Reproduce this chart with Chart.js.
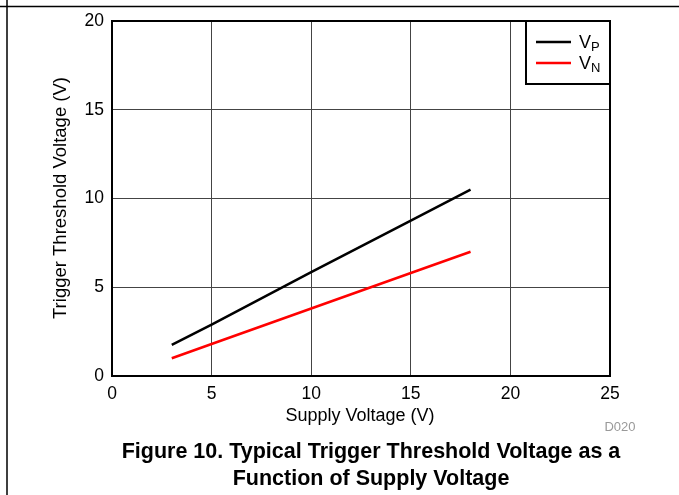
<!DOCTYPE html>
<html>
<head>
<meta charset="utf-8">
<script src="https://cdn.jsdelivr.net/npm/chart.js@4/dist/chart.umd.min.js"></script>
<style>
  html,body{margin:0;padding:0;background:#fff;}
  canvas{display:block;}
</style>
</head>
<body>
<canvas id="myChart" width="679" height="495"></canvas>
<script>
// data
const supplyVoltage=[3,5,10,15,18];
const vpValues=[1.75,2.9,5.85,8.75,10.5];
const vnValues=[1.0,1.8,3.8,5.8,7.0];
const seriesSubs=['P','N'];
const seriesColors=['#000000','#ff0000'];
const xTicks=[0,5,10,15,20,25];
const yTicks=[0,5,10,15,20];

const FONT='"Liberation Sans", Arial, sans-serif';

function toPoints(xs,ys){
  return xs.map((x,i)=>({x:x,y:ys[i]}));
}

const extras={
  id:'extras',
  afterDraw(chart){
    const ctx=chart.ctx;
    const a=chart.chartArea;
    ctx.save();
    // page rules
    ctx.strokeStyle='#000';
    ctx.lineWidth=1.5;
    ctx.beginPath();
    ctx.moveTo(0,6.5);ctx.lineTo(679,6.5);
    ctx.moveTo(7,0);ctx.lineTo(7,495);
    ctx.stroke();
    // plot frame
    ctx.lineWidth=2;
    ctx.strokeRect(a.left,a.top,a.right-a.left,a.bottom-a.top);
    // legend box
    const lx=526,ly=a.top,lw=a.right-lx,lh=84-a.top;
    ctx.fillStyle='#fff';
    ctx.fillRect(lx,ly,lw,lh);
    ctx.strokeRect(lx,ly,lw,lh);
    seriesSubs.forEach((s,i)=>{
      const y=42+i*21;
      ctx.strokeStyle=seriesColors[i];
      ctx.lineWidth=2.5;
      ctx.beginPath();ctx.moveTo(536,y);ctx.lineTo(571,y);ctx.stroke();
      ctx.fillStyle='#000';
      ctx.textBaseline='alphabetic';
      ctx.textAlign='left';
      ctx.font='18px '+FONT;
      ctx.fillText('V',579,y+6);
      ctx.font='13px '+FONT;
      ctx.fillText(s,591,y+9);
    });
    // axis titles
    ctx.fillStyle='#000';
    ctx.font='18px '+FONT;
    ctx.textAlign='center';
    ctx.textBaseline='middle';
    ctx.fillText('Supply Voltage (V)',360,416);
    ctx.save();
    ctx.translate(61,198);
    ctx.rotate(-Math.PI/2);
    ctx.font='18.5px '+FONT;
    ctx.fillText('Trigger Threshold Voltage (V)',0,0);
    ctx.restore();
    // figure id
    ctx.fillStyle='#999';
    ctx.font='13px '+FONT;
    ctx.fillText('D020',620,427);
    // caption
    ctx.fillStyle='#000';
    ctx.font='bold 21.5px '+FONT;
    ctx.fillText('Figure 10. Typical Trigger Threshold Voltage as a',371,452);
    ctx.fillText('Function of Supply Voltage',371,479);
    ctx.restore();
  }
};

const chartEl=document.getElementById('myChart');
const myChart=new Chart(chartEl,{
  type:'scatter',
  data:{
    datasets:[
      {label:'VP',data:toPoints(supplyVoltage,vpValues),showLine:true,borderColor:seriesColors[0],borderWidth:2.5,pointRadius:0,tension:0},
      {label:'VN',data:toPoints(supplyVoltage,vnValues),showLine:true,borderColor:seriesColors[1],borderWidth:2.5,pointRadius:0,tension:0}
    ]
  },
  options:{
    responsive:false,
    animation:false,
    layout:{padding:{top:21,right:69,bottom:0,left:0}},
    plugins:{legend:{display:false},tooltip:{enabled:false}},
    scales:{
      x:{
        type:'linear',min:0,max:25,
        afterBuildTicks(s){s.ticks=xTicks.map(v=>({value:v}));},
        afterFit(s){s.height=119;},
        grid:{color:'#444',lineWidth:1,drawTicks:false},
        border:{display:false},
        ticks:{color:'#000',font:{family:FONT,size:17.5},padding:8,maxRotation:0}
      },
      y:{
        type:'linear',min:0,max:20,
        afterBuildTicks(s){s.ticks=yTicks.map(v=>({value:v}));},
        afterFit(s){s.width=112;},
        grid:{color:'#444',lineWidth:1,drawTicks:false},
        border:{display:false},
        ticks:{color:'#000',font:{family:FONT,size:17.5},padding:8}
      }
    }
  },
  plugins:[extras]
});
</script>
</body>
</html>
